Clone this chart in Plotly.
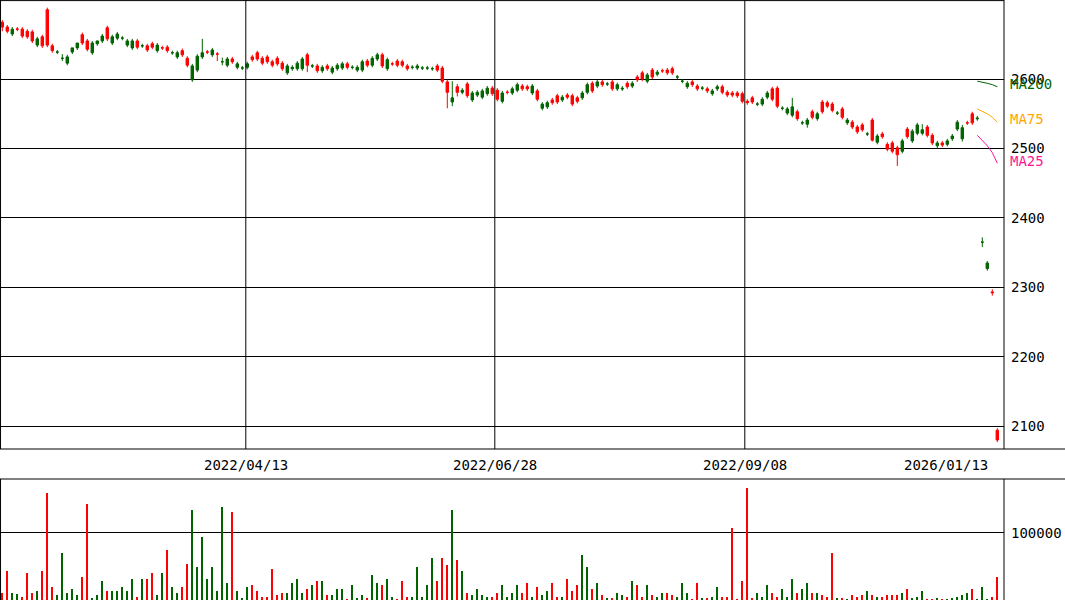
import plotly.graph_objects as go

# price data, one entry per trading day (oldest first)
opens = [
    2675, 2669, 2672, 2672, 2662, 2661, 2655, 2658, 2648, 2649,
    2641, 2639, 2630, 2632, 2645, 2652, 2652, 2643, 2652, 2655,
    2662, 2658, 2661, 2665, 2659, 2655, 2655, 2646, 2648, 2642,
    2646, 2649, 2645, 2641, 2638, 2638, 2635, 2620, 2619, 2633,
    2638, 2639, 2642, 2636, 2625, 2629, 2625, 2622, 2616, 2622,
    2628, 2629, 2623, 2625, 2620, 2622, 2615, 2619, 2617, 2623,
    2629, 2620, 2619, 2612, 2617, 2615, 2616, 2620, 2622, 2617,
    2617, 2617, 2625, 2620, 2630, 2635, 2619, 2628, 2622, 2620,
    2620, 2615, 2617, 2619, 2616, 2616, 2615, 2613, 2597, 2581,
    2573, 2581, 2584, 2576, 2580, 2581, 2583, 2587, 2579, 2571,
    2580, 2581, 2586, 2592, 2586, 2586, 2590, 2571, 2564, 2566,
    2566, 2567, 2574, 2574, 2564, 2568, 2580, 2592, 2583, 2596,
    2592, 2593, 2586, 2592, 2587, 2589, 2594, 2599, 2600, 2606,
    2603, 2610, 2612, 2609, 2609, 2603, 2597, 2594, 2592, 2586,
    2587, 2583, 2583, 2589, 2581, 2577, 2577, 2576, 2568, 2566,
    2567, 2564, 2571, 2580, 2571, 2561, 2558, 2557, 2560, 2543,
    2537, 2541, 2545, 2550, 2553, 2561, 2555, 2551, 2545, 2541,
    2531, 2524, 2527, 2521, 2512, 2518, 2517, 2499, 2496, 2491,
    2511, 2517, 2525, 2534, 2527, 2519, 2508, 2508, 2505, 2511,
    2518, 2538, 2530, 2537, 2537, 2544, 2365, 2335, 2292, 2080,
]
closes = [
    2682, 2675, 2665, 2672, 2672, 2669, 2668, 2649, 2661, 2700,
    2648, 2639, 2630, 2623, 2639, 2645, 2664, 2655, 2638, 2651,
    2655, 2674, 2652, 2659, 2659, 2649, 2645, 2655, 2648, 2648,
    2651, 2641, 2645, 2646, 2638, 2632, 2641, 2630, 2599, 2613,
    2632, 2639, 2635, 2636, 2625, 2620, 2629, 2617, 2616, 2617,
    2632, 2638, 2630, 2632, 2625, 2630, 2623, 2609, 2615, 2615,
    2615, 2635, 2619, 2619, 2612, 2619, 2610, 2615, 2616, 2622,
    2617, 2613, 2613, 2626, 2620, 2629, 2635, 2615, 2622, 2626,
    2625, 2619, 2617, 2616, 2616, 2616, 2615, 2619, 2616, 2596,
    2567, 2589, 2581, 2593, 2570, 2577, 2574, 2579, 2587, 2584,
    2568, 2581, 2580, 2584, 2590, 2589, 2580, 2583, 2558, 2560,
    2570, 2576, 2570, 2577, 2576, 2573, 2573, 2581, 2594, 2590,
    2596, 2593, 2596, 2586, 2586, 2594, 2590, 2603, 2609, 2597,
    2613, 2607, 2612, 2613, 2615, 2603, 2597, 2589, 2596, 2590,
    2587, 2586, 2579, 2586, 2589, 2581, 2580, 2580, 2579, 2568,
    2573, 2564, 2564, 2574, 2586, 2587, 2558, 2551, 2548, 2553,
    2537, 2535, 2553, 2543, 2567, 2566, 2564, 2551, 2557, 2537,
    2538, 2531, 2534, 2521, 2541, 2509, 2521, 2506, 2508, 2501,
    2496, 2528, 2511, 2522, 2522, 2531, 2519, 2504, 2508, 2506,
    2514, 2528, 2514, 2537, 2550, 2543, 2365, 2327, 2293, 2094,
]
highs = [
    2685, 2678, 2675, 2675, 2675, 2672, 2671, 2661, 2664, 2703,
    2651, 2642, 2636, 2635, 2642, 2648, 2667, 2658, 2655, 2654,
    2665, 2677, 2664, 2668, 2662, 2658, 2658, 2658, 2651, 2651,
    2654, 2652, 2648, 2649, 2641, 2641, 2644, 2633, 2622, 2636,
    2658, 2642, 2645, 2639, 2631, 2632, 2632, 2625, 2619, 2625,
    2635, 2641, 2633, 2635, 2628, 2633, 2626, 2622, 2620, 2626,
    2632, 2638, 2622, 2622, 2620, 2622, 2619, 2623, 2625, 2625,
    2620, 2620, 2628, 2629, 2633, 2638, 2638, 2631, 2625, 2629,
    2628, 2622, 2620, 2622, 2619, 2619, 2618, 2622, 2619, 2599,
    2597, 2593, 2587, 2596, 2583, 2584, 2586, 2590, 2590, 2587,
    2583, 2584, 2589, 2595, 2593, 2592, 2593, 2586, 2567, 2569,
    2573, 2579, 2577, 2580, 2579, 2576, 2583, 2595, 2597, 2599,
    2599, 2596, 2599, 2595, 2590, 2597, 2597, 2606, 2612, 2609,
    2616, 2613, 2615, 2616, 2618, 2606, 2600, 2597, 2599, 2593,
    2590, 2589, 2586, 2592, 2592, 2584, 2583, 2583, 2582, 2571,
    2576, 2567, 2574, 2583, 2589, 2590, 2561, 2560, 2573, 2556,
    2540, 2544, 2556, 2553, 2570, 2569, 2567, 2554, 2560, 2544,
    2541, 2534, 2537, 2524, 2544, 2521, 2524, 2509, 2511, 2504,
    2514, 2531, 2528, 2537, 2535, 2534, 2522, 2511, 2511, 2514,
    2521, 2541, 2534, 2540, 2553, 2547, 2372, 2338, 2297, 2097,
]
lows = [
    2669, 2666, 2662, 2669, 2659, 2658, 2652, 2646, 2645, 2646,
    2638, 2636, 2626, 2620, 2636, 2642, 2649, 2640, 2635, 2648,
    2652, 2655, 2649, 2656, 2656, 2646, 2642, 2643, 2645, 2639,
    2643, 2638, 2642, 2638, 2635, 2629, 2632, 2617, 2596, 2610,
    2629, 2636, 2632, 2626, 2620, 2617, 2622, 2614, 2613, 2614,
    2625, 2626, 2620, 2622, 2617, 2619, 2612, 2606, 2612, 2612,
    2612, 2610, 2616, 2609, 2609, 2612, 2607, 2612, 2613, 2614,
    2614, 2610, 2610, 2617, 2617, 2626, 2616, 2612, 2619, 2617,
    2617, 2612, 2614, 2613, 2613, 2613, 2612, 2610, 2594, 2558,
    2561, 2575, 2578, 2573, 2567, 2574, 2571, 2576, 2576, 2568,
    2565, 2578, 2577, 2581, 2583, 2583, 2577, 2568, 2555, 2557,
    2563, 2564, 2567, 2571, 2561, 2565, 2570, 2578, 2580, 2587,
    2589, 2590, 2583, 2583, 2583, 2586, 2587, 2596, 2597, 2594,
    2600, 2604, 2609, 2606, 2606, 2600, 2594, 2586, 2589, 2583,
    2584, 2580, 2576, 2583, 2578, 2574, 2574, 2573, 2565, 2563,
    2564, 2561, 2561, 2571, 2568, 2558, 2555, 2548, 2545, 2540,
    2534, 2530, 2542, 2540, 2550, 2558, 2552, 2548, 2542, 2534,
    2528, 2521, 2524, 2518, 2510, 2506, 2514, 2496, 2493, 2475,
    2493, 2514, 2508, 2519, 2519, 2516, 2505, 2500, 2502, 2503,
    2511, 2525, 2510, 2534, 2534, 2540, 2358, 2324, 2288, 2077,
]
# volume in thousands of shares
volumes_k = [
    11, 44, 11, 9, 5, 40, 11, 13, 43, 160,
    20, 8, 70, 10, 16, 8, 34, 143, 2, 8,
    28, 13, 14, 14, 19, 14, 32, 5, 32, 32,
    40, 8, 41, 75, 19, 10, 20, 54, 135, 49,
    94, 32, 49, 14, 138, 25, 132, 13, 2, 19,
    22, 14, 4, 4, 46, 7, 10, 11, 26, 31,
    11, 16, 22, 29, 29, 8, 7, 16, 17, 1,
    22, 2, 7, 2, 38, 26, 22, 32, 4, 1,
    29, 4, 5, 49, 5, 22, 63, 29, 63, 52,
    135, 60, 44, 11, 7, 16, 7, 5, 5, 11,
    23, 5, 10, 22, 10, 25, 4, 19, 8, 14,
    25, 4, 4, 32, 14, 23, 67, 49, 17, 25,
    7, 2, 2, 10, 8, 4, 28, 23, 5, 23,
    7, 4, 10, 11, 8, 4, 25, 11, 1, 26,
    2, 2, 5, 20, 5, 4, 108, 1, 29, 167,
    2, 10, 4, 22, 11, 5, 17, 4, 32, 10,
    17, 25, 10, 10, 7, 5, 70, 2, 2, 1,
    7, 4, 7, 13, 7, 4, 4, 7, 7, 7,
    10, 16, 2, 5, 13, 1, 1, 2, 1, 1,
    2, 4, 8, 10, 17, 1, 19, 1, 4, 34,
]
volumes = [v * 1000 for v in volumes_k]

# moving averages, only the tail end is visible
ma_x = [195, 196, 197, 198, 199]
ma200 = [2597, 2596, 2594, 2592, 2589]
ma75 = [2557, 2554, 2550, 2545, 2538]
ma25 = [2519, 2512, 2504, 2494, 2479]

date_pos = [48.7, 98.5, 148.5]
date_labels = ["2022/04/13", "2022/06/28", "2022/09/08"]
last_label = "2026/01/13"

RED = "#ff0000"
GREEN = "#006400"
FONT = "DejaVu Sans Mono"

idx = list(range(len(opens)))
vol_colors = [RED if c > o else GREEN for o, c in zip(opens, closes)]

fig = go.Figure()
fig.add_trace(go.Candlestick(
    x=idx, open=opens, high=highs, low=lows, close=closes,
    increasing=dict(line=dict(color=RED, width=1), fillcolor=RED),
    decreasing=dict(line=dict(color=GREEN, width=1), fillcolor=GREEN),
    whiskerwidth=0, xaxis="x", yaxis="y", showlegend=False,
))
fig.add_trace(go.Scatter(x=ma_x, y=ma200, mode="lines", line=dict(color="#006400", width=1), showlegend=False))
fig.add_trace(go.Scatter(x=ma_x, y=ma75, mode="lines", line=dict(color="#ffa500", width=1), showlegend=False))
fig.add_trace(go.Scatter(x=ma_x, y=ma25, mode="lines", line=dict(color="#ff1493", width=1), showlegend=False))
fig.add_trace(go.Bar(x=idx, y=volumes, marker=dict(color=vol_colors, line=dict(width=0)),
                     width=0.3, xaxis="x2", yaxis="y2", showlegend=False))

xr = [-0.46, 200.34]
top_dom = [1 - 449 / 600, 1]
bot_dom = [0, 121 / 600]
xdom = [0, 1004 / 1065]

fig.update_layout(
    width=1065, height=600,
    margin=dict(l=0, r=0, t=0, b=0),
    paper_bgcolor="white", plot_bgcolor="white",
    font=dict(family=FONT, size=14, color="black"),
    xaxis=dict(domain=xdom, range=xr, showgrid=False, showticklabels=False,
               zeroline=False, rangeslider=dict(visible=False)),
    yaxis=dict(domain=top_dom, range=[2067, 2714], side="right",
               tickvals=[2100, 2200, 2300, 2400, 2500, 2600],
               showgrid=True, gridcolor="black", gridwidth=1, zeroline=False,
               ticks="", ticklabelstandoff=6),
    xaxis2=dict(domain=xdom, range=xr, anchor="y2", showgrid=False,
                showticklabels=False, zeroline=False),
    yaxis2=dict(domain=bot_dom, range=[0, 180500], side="right", anchor="x2",
                tickvals=[100000], ticktext=["100000"], showgrid=True, gridcolor="black",
                zeroline=False, ticks="", ticklabelstandoff=6),
    bargap=0,
)

shapes = []
for p in date_pos:
    shapes.append(dict(type="line", xref="x", yref="paper", x0=p, x1=p,
                       y0=top_dom[0], y1=1, line=dict(color="black", width=1)))
# panel frame
for yp in [top_dom[0], bot_dom[1]]:
    shapes.append(dict(type="line", xref="paper", yref="paper", x0=0, x1=1,
                       y0=yp, y1=yp, line=dict(color="black", width=1)))
for y0, y1 in [top_dom, bot_dom]:
    shapes.append(dict(type="line", xref="paper", yref="paper", x0=xdom[1], x1=xdom[1],
                       y0=y0, y1=y1, line=dict(color="black", width=1)))
    shapes.append(dict(type="line", xref="paper", yref="paper", x0=0.0005, x1=0.0005,
                       y0=y0, y1=y1, line=dict(color="black", width=1)))
shapes.append(dict(type="line", xref="paper", yref="paper", x0=0, x1=xdom[1],
                   y0=0.999, y1=0.999, line=dict(color="black", width=1)))
fig.update_layout(shapes=shapes)

mid_y = 1 - 465 / 600
ann = [dict(x=p, y=mid_y, xref="x", yref="paper", text=t, showarrow=False, yanchor="middle",
            font=dict(family=FONT, size=14)) for p, t in zip(date_pos, date_labels)]
ann.append(dict(x=990 / 1065, y=mid_y, xref="paper", yref="paper", text=last_label,
                showarrow=False, yanchor="middle", font=dict(family=FONT, size=14)))
for txt, yv, col in [("MA200", 84, "#006400"), ("MA75", 119, "#ffa500"), ("MA25", 161, "#ff1493")]:
    ann.append(dict(x=1008 / 1065, y=1 - yv / 600, xref="paper", yref="paper", text=txt,
                    xanchor="left", yanchor="middle", showarrow=False,
                    font=dict(family=FONT, size=14, color=col)))
fig.update_layout(annotations=ann)

fig.write_html("out.html", config={"displayModeBar": False},
               post_script="document.body.style.margin='0';")
